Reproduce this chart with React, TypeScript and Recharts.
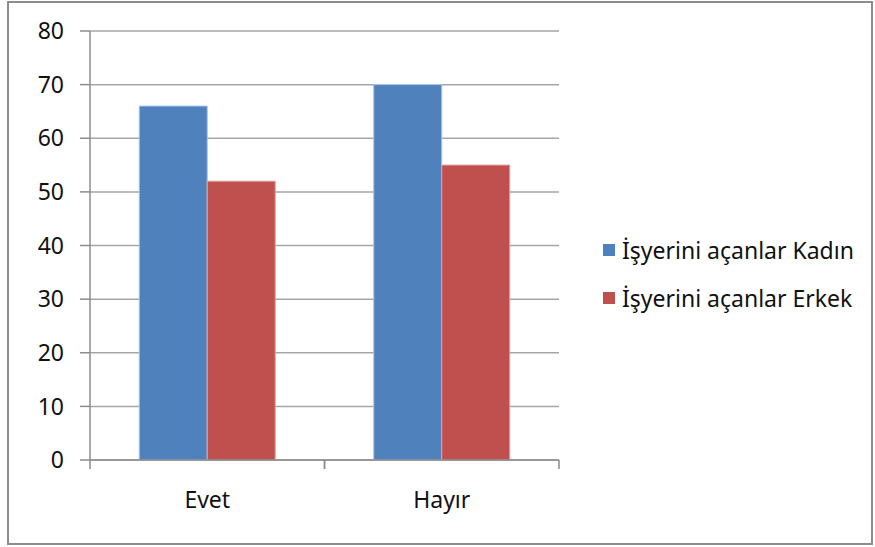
import { BarChart, Bar, XAxis, YAxis, CartesianGrid } from 'recharts'

// Veriler
const categories = ['Evet', 'Hayır']
const kadin = [66, 70]
const erkek = [52, 55]
const yTicks = [0, 10, 20, 30, 40, 50, 60, 70, 80]
const seriesNames = ['İşyerini açanlar Kadın', 'İşyerini açanlar Erkek']
const colors = ['#4f81bd', '#c0504d']

const data = categories.map((c, i) => ({ name: c, kadin: kadin[i], erkek: erkek[i] }))

const FONT = '"Noto Sans", sans-serif'
const AXIS = '#8c8c8c'

// Kategori etiketi + kategori sınırlarında aşağı doğru tik çizgileri
function CategoryTick(props: any) {
  const { x, y, payload, width, visibleTicksCount } = props
  const band = width / (visibleTicksCount || categories.length)
  return (
    <g>
      <line x1={x - band / 2} x2={x - band / 2} y1={y} y2={y + 9} stroke={AXIS} strokeWidth={1.5} />
      <line x1={x + band / 2} x2={x + band / 2} y1={y} y2={y + 9} stroke={AXIS} strokeWidth={1.5} />
      <text x={x} y={y + 42} textAnchor="middle" dominantBaseline="middle" fill="#111" fontSize={23} fontFamily={FONT}>
        {payload.value}
      </text>
    </g>
  )
}

function LegendBox() {
  return (
    <div style={{ position: 'absolute', left: 603, top: 226, fontFamily: FONT, fontSize: 23, color: '#111' }}>
      {seriesNames.map((n, i) => (
        <div key={n} style={{ display: 'flex', alignItems: 'center', height: 48, whiteSpace: 'nowrap' }}>
          <div style={{ width: 12, height: 12, background: colors[i], marginRight: 7 }} />
          <span>{n}</span>
        </div>
      ))}
    </div>
  )
}

export default function App() {
  return (
    <div style={{ position: 'absolute', left: 0, top: 0, width: 875, height: 547, background: '#fff' }}>
      <div
        style={{
          position: 'absolute',
          left: 7,
          top: 1,
          width: 866,
          height: 544,
          border: '2px solid #8c8c8c',
          boxSizing: 'border-box',
        }}
      />
      <div style={{ position: 'absolute', left: 0, top: 0 }}>
        <BarChart
          width={875}
          height={547}
          data={data}
          margin={{ top: 31, right: 316, left: 0, bottom: 37 }}
          barCategoryGap="21%"
          barGap={0}
        >
          <CartesianGrid horizontal vertical={false} stroke="#a6a6a6" strokeWidth={1.5} />
          <XAxis
            dataKey="name"
            height={50}
            axisLine={{ stroke: AXIS, strokeWidth: 1.5 }}
            tickLine={false}
            tickSize={0}
            tickMargin={0}
            interval={0}
            tick={<CategoryTick />}
          />
          <YAxis
            width={90}
            domain={[0, 80]}
            ticks={yTicks}
            interval={0}
            axisLine={{ stroke: AXIS, strokeWidth: 1.5 }}
            tickLine={{ stroke: AXIS, strokeWidth: 1.5 }}
            tickSize={10}
            tickMargin={16}
            tick={{ fill: '#111', fontSize: 23, fontFamily: FONT }}
          />
          <Bar dataKey="kadin" name={seriesNames[0]} fill={colors[0]} stroke="#a9c4e6" strokeWidth={1} isAnimationActive={false} />
          <Bar dataKey="erkek" name={seriesNames[1]} fill={colors[1]} stroke="#e0a3a1" strokeWidth={1} isAnimationActive={false} />
        </BarChart>
      </div>
      <LegendBox />
    </div>
  )
}
